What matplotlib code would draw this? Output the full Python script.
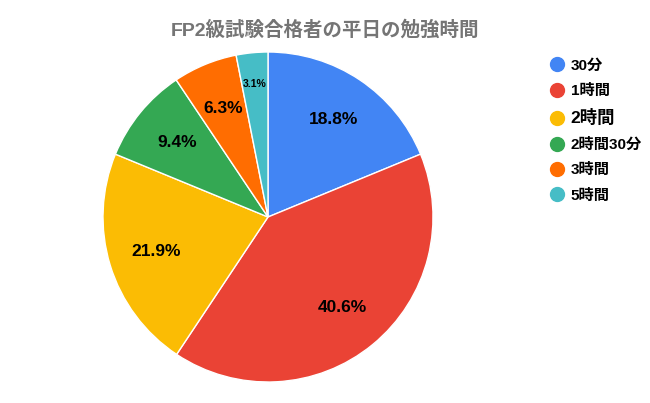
import numpy as np
import matplotlib.pyplot as plt
from matplotlib.lines import Line2D

plt.rcParams['font.family'] = ['Liberation Sans', 'Noto Sans CJK JP', 'DejaVu Sans']

# データ
categorias = ['30分', '1時間', '2時間', '2時間30分', '3時間', '5時間']
porcentajes = [18.8, 40.6, 21.9, 9.4, 6.3, 3.1]
colores = ['#4285F4', '#EA4335', '#FBBC04', '#34A853', '#FF6D01', '#46BDC6']
titulo = 'FP2級試験合格者の平日の勉強時間'

fig = plt.figure(figsize=(6.5, 4.03), dpi=100)

# pie area: center (268, 217) px, radius 165 px
cx, cy, r = 268, 217, 165
W, H = 650, 403
ax = fig.add_axes([(cx - r) / W, (H - cy - r) / H, 2 * r / W, 2 * r / H])

wedges, textos, autotextos = ax.pie(
    porcentajes, colors=colores, startangle=90, counterclock=False,
    autopct='%.1f%%', pctdistance=0.71,
    wedgeprops=dict(edgecolor='white', linewidth=1.0),
    textprops=dict(fontsize=12.5, fontweight='bold', color='black'))
ax.set_xlim(-1, 1)
ax.set_ylim(-1, 1)
ax.set_aspect('equal')

# la etiqueta pequeña va más afuera
cuña = wedges[-1]
ang = np.deg2rad((cuña.theta1 + cuña.theta2) / 2)
autotextos[-1].set_position((0.81 * np.cos(ang), 0.81 * np.sin(ang)))
autotextos[-1].set_fontsize(7.5)

fig.text(325 / W, 1 - 30 / H, titulo, ha='center', va='center',
         fontsize=14, fontweight='bold', color='#757575')

handles = [Line2D([0], [0], marker='o', linestyle='', markersize=10,
                  markerfacecolor=c, markeredgecolor=c) for c in colores]
leg = fig.legend(handles, categorias, loc='upper left',
                 bbox_to_anchor=(534 / W, 1 - 45 / H), frameon=False,
                 handletextpad=0.3, labelspacing=0.74, handlelength=1.2,
                 prop=dict(size=11, weight='bold'))
for t in leg.get_texts():
    if t.get_text() == '2時間':
        t.set_fontsize(12.5)

fig.savefig('out.png', dpi=100)
